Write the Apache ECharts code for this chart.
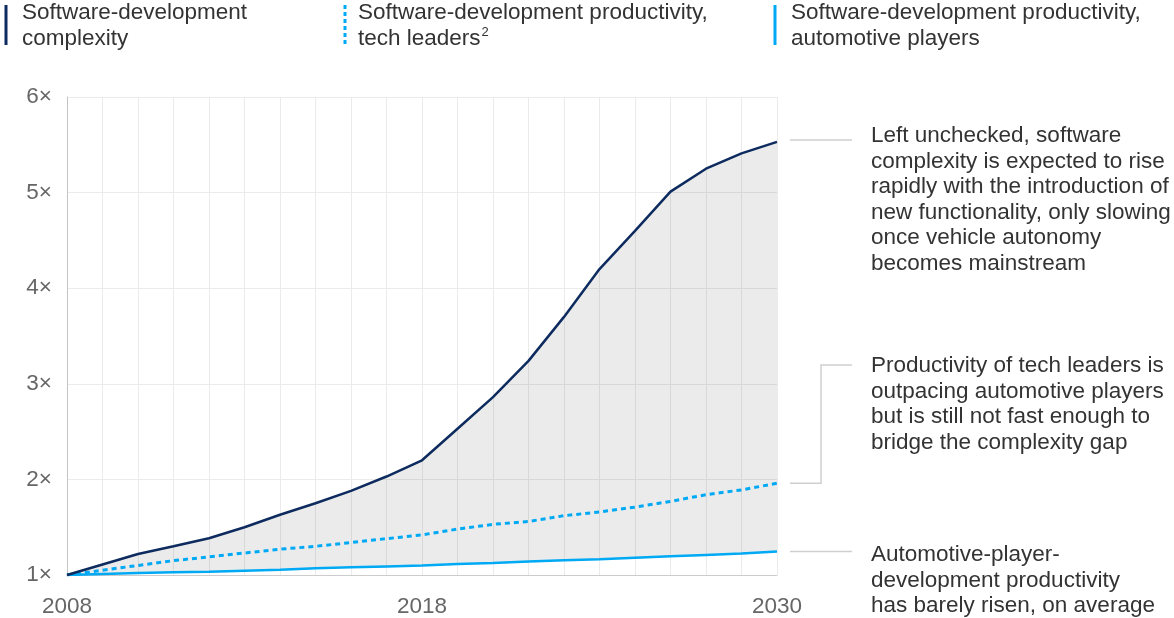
<!DOCTYPE html>
<html>
<head>
<meta charset="utf-8">
<script src="https://cdn.jsdelivr.net/npm/echarts@6/dist/echarts.min.js"></script>
<style>
  html, body { margin: 0; padding: 0; background: #fff; }
  #chart { width: 1174px; height: 618px; }
</style>
</head>
<body>
<div id="chart"></div>
<script>
// x positions: 21 points, labelled only at 2008, 2018 and 2030
const xLabels = ["2008", "", "", "", "", "", "", "", "", "", "2018",
                 "", "", "", "", "", "", "", "", "", "2030"];
const complexity = [1.00, 1.11, 1.22, 1.30, 1.385, 1.50, 1.63, 1.75, 1.88, 2.03, 2.20,
                    2.53, 2.86, 3.24, 3.70, 4.20, 4.60, 5.01, 5.25, 5.41, 5.53];
const techLeaders = [1.00, 1.05, 1.10, 1.15, 1.19, 1.23, 1.27, 1.30, 1.34, 1.38, 1.42,
                     1.48, 1.53, 1.56, 1.62, 1.66, 1.71, 1.77, 1.84, 1.89, 1.96];
const automotive = [1.00, 1.01, 1.02, 1.03, 1.035, 1.045, 1.055, 1.07, 1.08, 1.09, 1.10,
                    1.115, 1.125, 1.14, 1.155, 1.165, 1.18, 1.195, 1.21, 1.225, 1.245];
const yTicks = [1, 2, 3, 4, 5, 6];

const legendNames = [
  "Software-development\ncomplexity",
  "Software-development productivity,\n{t|tech leaders}{s|2}",
  "Software-development productivity,\nautomotive players"
];
const notes = [
  "Left unchecked, software\ncomplexity is expected to rise\nrapidly with the introduction of\nnew functionality, only slowing\nonce vehicle autonomy\nbecomes mainstream",
  "Productivity of tech leaders is\noutpacing automotive players\nbut is still not fast enough to\nbridge the complexity gap",
  "Automotive-player-\ndevelopment productivity\nhas barely risen, on average"
];

const NAVY = "#0d2b5e";
const CYAN = "#00a9f4";
const FONT = '"Liberation Sans", Arial, sans-serif';
const FS = 22.5;
const TEXT = "#333333";

const el = echarts.init(document.getElementById("chart"));

// gap between complexity and automotive productivity, for the grey band
const gap = complexity.map((v, i) => +(v - automotive[i]).toFixed(3));

const options = {
  animation: false,
  grid: { left: 67, right: 397, top: 97, bottom: 43 },
  xAxis: {
    type: "category",
    data: xLabels,
    boundaryGap: false,
    axisLine: { show: true, lineStyle: { color: "#cccccc", width: 1 } },
    axisTick: { show: false },
    axisLabel: {
      interval: 0,
      margin: 20,
      color: "#666666",
      fontSize: FS,
      fontFamily: FONT
    },
    splitLine: { show: true, interval: 0, lineStyle: { color: "#ebebeb", width: 1 } }
  },
  yAxis: {
    type: "value",
    min: yTicks[0],
    max: yTicks[yTicks.length - 1],
    interval: 1,
    axisLine: { show: true, lineStyle: { color: "#c4c4c4", width: 1 } },
    axisTick: { show: false },
    axisLabel: {
      margin: 15,
      color: "#666666",
      fontSize: FS,
      fontFamily: FONT,
      formatter: function (val) {
        return val + "×";
      }
    },
    splitLine: { show: true, lineStyle: { color: "#ebebeb", width: 1 } }
  },
  series: [
    {
      name: "base",
      type: "line",
      stack: "band",
      symbol: "none",
      silent: true,
      lineStyle: { width: 0, opacity: 0 },
      data: automotive
    },
    {
      name: "band",
      type: "line",
      stack: "band",
      symbol: "none",
      silent: true,
      lineStyle: { width: 0, opacity: 0 },
      areaStyle: { color: "rgba(0,0,0,0.115)" },
      data: gap
    },
    {
      name: "Software-development complexity",
      type: "line",
      symbol: "none",
      lineStyle: { color: NAVY, width: 2.5 },
      data: complexity,
      z: 5
    },
    {
      name: "Software-development productivity, tech leaders",
      type: "line",
      symbol: "none",
      lineStyle: { color: CYAN, width: 3, type: [5, 4] },
      data: techLeaders,
      z: 4
    },
    {
      name: "Software-development productivity, automotive players",
      type: "line",
      symbol: "none",
      lineStyle: { color: CYAN, width: 2.5 },
      data: automotive,
      z: 4
    }
  ]
};

el.setOption(options);

// annotations and legend, anchored to the end of each line
const last = xLabels.length - 1;
const pC = el.convertToPixel({ gridIndex: 0 }, [last, complexity[last]]);
const pT = el.convertToPixel({ gridIndex: 0 }, [last, techLeaders[last]]);
const pA = el.convertToPixel({ gridIndex: 0 }, [last, automotive[last]]);
const x0 = pC[0] + 13;
const x1 = pC[0] + 75;
const xt = pC[0] + 94;
const leader = { stroke: "#cfcfcf", lineWidth: 1.5, fill: null };

function textBlock(str, x, y, rich) {
  return {
    type: "text",
    x: x,
    y: y,
    style: {
      text: str,
      font: FS + "px " + FONT,
      fill: TEXT,
      lineHeight: 25.6,
      verticalAlign: "top",
      rich: rich
    }
  };
}

const richSup = {
  t: { fontSize: FS, fontFamily: FONT, fill: TEXT, lineHeight: 25.6 },
  s: { fontSize: 13, fontFamily: FONT, fill: TEXT, lineHeight: 25.6, verticalAlign: "top", padding: [0, 0, 8, 1] }
};

el.setOption({
  graphic: [
    // legend markers
    { type: "line", shape: { x1: 6, y1: 5, x2: 6, y2: 45 }, style: { stroke: NAVY, lineWidth: 3 } },
    { type: "line", shape: { x1: 345, y1: 5, x2: 345, y2: 45 }, style: { stroke: CYAN, lineWidth: 3, lineDash: [4, 3] } },
    { type: "line", shape: { x1: 775, y1: 5, x2: 775, y2: 45 }, style: { stroke: CYAN, lineWidth: 3 } },
    textBlock(legendNames[0], 22, 0),
    textBlock(legendNames[1], 358, 0, richSup),
    textBlock(legendNames[2], 791, 0),
    // leaders
    { type: "line", shape: { x1: x0, y1: pC[1] - 2, x2: x1, y2: pC[1] - 2 }, style: leader },
    { type: "polyline", shape: { points: [[x0, pT[1]], [x0 + 31, pT[1]], [x0 + 31, 365], [x1, 365]] }, style: leader },
    { type: "line", shape: { x1: x0, y1: pA[1], x2: x1, y2: pA[1] }, style: leader },
    // notes
    textBlock(notes[0], xt, 123),
    textBlock(notes[1], xt, 353),
    textBlock(notes[2], xt, 542)
  ]
});
</script>
</body>
</html>
